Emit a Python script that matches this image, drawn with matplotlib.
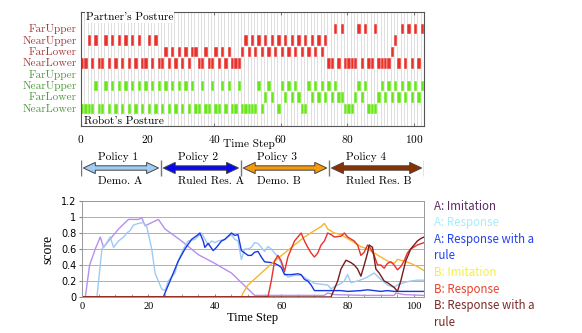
import numpy as np
import matplotlib.pyplot as plt
from matplotlib.patches import Polygon
import matplotlib.transforms as mtransforms

plt.rcParams['axes.formatter.use_mathtext'] = True

# ---- posture sequences (one entry per time step) ----
posture_rows = ['FarUpper', 'NearUpper', 'FarLower', 'NearLower']
partner_posture = (
    "NL NL NU NL NU NL NL NU NL NU NL NU NL NU NL NU NL NU NL NL NU NL NU NL "
    "NL FL NL FL NL FL NL FL NL FL FL NL NL FL NL NL FL NL FL NL FL NL NL NL FL "
    "NU FL NU FL NU FL NU FL NU FL NU FL NU FL NU FL NU FL NU FL NU FL NU FL NU "
    "NL NL FU NL FU NL NL NL NL FU NL FU NL NL FU NL NL NL NL FL NU NL FU NL FU NL FU NL FU"
).split()
robot_posture = (
    "NL NL NL NL NU NL NL NU NL NU NL NU NL NU NL NU NL NU NL NU NL NU NL NU NL "
    "NU NL NU NL NU NL NU NL NU NL NL NU NL NL NU NL NL NU NL NU NL NL NU NL NL "
    "NL NL NL NU NL FL NU FL -- NL NU FL NU FL NU FL NL NL NU FL NU FL NU FL NU "
    "FL NU FL FL NL NL NL FL NU FL NU NL NL NL FL NU FL NU FL NU FL NU FL NU FL NU FL NU"
).split()

# ---- policy phases ----
policy_bounds = [0, 24, 48, 74.5, 103]
policy_names = ['Policy 1', 'Policy 2', 'Policy 3', 'Policy 4']
policy_modes = ['Demo. A', 'Ruled Res. A', 'Demo. B', 'Ruled Res. B']
policy_colors = ['#9fcdf4', '#0808f0', '#f69a0a', '#8b3100']

# ---- scores ----
a_imit_t = [0, 1, 2.3, 4, 5.5, 6.5, 7, 9, 11, 14, 17, 18, 19, 23, 25, 30, 35, 40, 45, 50, 52, 60, 73, 74, 76, 85, 94, 94.5, 97, 103]
a_imit_v = [0, 0, 0.4, 0.6, 0.75, 0.62, 0.65, 0.75, 0.85, 0.97, 0.97, 0.99, 0.89, 0.97, 0.85, 0.7, 0.53, 0.42, 0.3, 0.1, 0.02, 0.02, 0.02, 0.05, 0.03, 0.02, 0.02, 0.05, 0.03, 0.02]

a_resp_t = [0, 4.5, 6, 7, 8.5, 9.5, 11, 12.5, 13.5, 14.5, 15.5, 17, 18.5, 19.5, 21, 22, 23, 24, 25, 26, 28, 29, 30.5, 32, 34, 36, 38, 39, 40, 41, 43, 45, 46, 47, 48, 49, 50, 51, 52, 53, 55, 56, 57, 58, 59, 60, 61, 62, 64, 66, 68, 70, 72, 74, 75, 76, 78, 79, 80, 81, 83, 85, 86, 88, 90, 92, 94, 95, 97, 99, 101, 103]
a_resp_v = [0, 0, 0.6, 0.65, 0.75, 0.62, 0.7, 0.75, 0.8, 0.83, 0.9, 0.92, 0.93, 0.88, 0.6, 0.3, 0.2, 0.1, 0.08, 0.2, 0.3, 0.45, 0.6, 0.7, 0.72, 0.8, 0.65, 0.7, 0.68, 0.7, 0.72, 0.78, 0.72, 0.7, 0.47, 0.6, 0.6, 0.62, 0.68, 0.67, 0.57, 0.63, 0.6, 0.55, 0.5, 0.42, 0.3, 0.25, 0.27, 0.27, 0.22, 0.17, 0.16, 0.15, 0.1, 0.13, 0.17, 0.2, 0.28, 0.18, 0.2, 0.23, 0.25, 0.3, 0.22, 0.15, 0.12, 0.15, 0.18, 0.2, 0.21, 0.21]

a_rule_t = [0, 24.5, 25.5, 27, 29, 31, 33, 35, 35.5, 36.5, 37, 38, 39.5, 40.5, 42, 43, 45, 46, 47, 48, 49, 50, 51, 52, 53, 54, 55, 57, 58, 59, 60, 61, 63, 65, 66, 67, 68, 69, 70, 72, 75, 78, 80, 84, 86, 88, 90, 92, 94, 103]
a_rule_v = [0, 0, 0.1, 0.25, 0.45, 0.6, 0.72, 0.78, 0.8, 0.7, 0.62, 0.67, 0.58, 0.62, 0.7, 0.72, 0.8, 0.77, 0.78, 0.58, 0.55, 0.52, 0.52, 0.56, 0.57, 0.5, 0.44, 0.43, 0.42, 0.4, 0.37, 0.28, 0.28, 0.29, 0.28, 0.22, 0.2, 0.15, 0.08, 0.08, 0.08, 0.08, 0.07, 0.08, 0.09, 0.08, 0.07, 0.08, 0.07, 0.07]

b_imit_t = [0, 48, 48.5, 50, 54, 58, 61, 64, 67, 70, 72, 73, 74, 76, 78, 80, 82, 84, 86, 88, 90, 92, 94, 95, 97, 99, 101, 103]
b_imit_v = [0, 0, 0.05, 0.15, 0.3, 0.45, 0.55, 0.65, 0.75, 0.83, 0.88, 0.92, 0.85, 0.8, 0.78, 0.73, 0.68, 0.63, 0.6, 0.55, 0.5, 0.45, 0.42, 0.47, 0.45, 0.42, 0.38, 0.33]

b_resp_t = [0, 56, 57, 58, 59, 60, 61, 62, 63, 64, 65, 66, 67, 68, 69, 70, 71, 72, 73, 74, 75, 76, 78, 79, 80, 82, 83, 84, 85, 86, 87, 88, 89, 90, 91, 92, 93, 94, 95, 96, 97, 98, 99, 101, 103]
b_resp_v = [0, 0, 0.2, 0.45, 0.52, 0.45, 0.32, 0.5, 0.6, 0.7, 0.75, 0.8, 0.7, 0.62, 0.55, 0.5, 0.55, 0.65, 0.7, 0.8, 0.78, 0.75, 0.76, 0.8, 0.75, 0.7, 0.65, 0.52, 0.56, 0.65, 0.6, 0.52, 0.4, 0.4, 0.36, 0.42, 0.44, 0.4, 0.34, 0.38, 0.45, 0.55, 0.6, 0.65, 0.68]

b_rule_t = [0, 75, 77, 78, 79.5, 81, 82, 83, 84, 85, 86, 86.5, 87.5, 88.5, 89.5, 91, 92, 94, 95, 96, 97.5, 99, 100, 101, 102, 103]
b_rule_v = [0, 0, 0.2, 0.35, 0.46, 0.43, 0.4, 0.35, 0.26, 0.4, 0.55, 0.65, 0.62, 0.35, 0.3, 0.2, 0.18, 0.12, 0.07, 0.2, 0.45, 0.6, 0.65, 0.7, 0.73, 0.75]

legend_labels = ['A: Imitation', 'A: Response', 'A: Response with a\nrule',
                 'B: Imitation', 'B: Response', 'B: Response with a\nrule']
legend_colors = ['#5c2b5e', '#a6eefc', '#2442f2', '#f4f046', '#e8432e', '#7a2b28']
line_colors = ['#b68ff0', '#9fcaf2', '#1838e6', '#f8b52c', '#e8302c', '#761c1a']

W, H = 582, 333
fig = plt.figure(figsize=(W / 100, H / 100), dpi=100)

def box(l, t, r, b):
    return [l / W, 1 - b / H, (r - l) / W, (b - t) / H]

SERIF = 'cmr10'

# ---------------- posture panel ----------------
ax = fig.add_axes(box(81, 12, 424, 126))
ax.set_xlim(0, 103)
ax.set_ylim(-0.5, 9.5)
steps = np.arange(len(partner_posture))
ax.vlines(steps, -0.5, 9.5, color='#dedede', lw=0.7, zorder=0)

partner_y = {'FarUpper': 8, 'NearUpper': 7, 'FarLower': 6, 'NearLower': 5}
robot_y = {'FarUpper': 4, 'NearUpper': 3, 'FarLower': 2, 'NearLower': 1}
code = {'FU': 'FarUpper', 'NU': 'NearUpper', 'FL': 'FarLower', 'NL': 'NearLower'}

for seq, ymap, col in [(partner_posture, partner_y, '#e8312b'), (robot_posture, robot_y, '#68e61a')]:
    xs = [t for t, s in zip(steps, seq) if s in code]
    ys = [ymap[code[s]] for s in seq if s in code]
    ax.bar(xs, 0.92, width=1, bottom=np.array(ys) - 0.46, align='edge',
           color=col, edgecolor='white', linewidth=0.3, zorder=2)

trans = mtransforms.blended_transform_factory(ax.transAxes, ax.transData)
for name in posture_rows:
    ax.text(-0.012, partner_y[name], name, transform=trans, ha='right', va='center',
            color='#a83c3c', fontsize=8.2, family=SERIF)
    ax.text(-0.012, robot_y[name], name, transform=trans, ha='right', va='center',
            color='#4e9c3c', fontsize=8.2, family=SERIF)
ax.text(1.5, 9.0, "Partner's Posture", ha='left', va='center', fontsize=8.2, family=SERIF,
        bbox=dict(fc='white', ec='none', pad=0.5), zorder=4)
ax.text(1.0, -0.05, "Robot's Posture", ha='left', va='center', fontsize=8.2, family=SERIF,
        bbox=dict(fc='white', ec='none', pad=0.5), zorder=4)

ax.set_xticks([0, 20, 40, 60, 80, 100])
ax.set_yticks([])
ax.tick_params(axis='x', top=True, direction='in', length=2, labelsize=8.2, pad=5, color='#777777')
for lab in ax.get_xticklabels():
    lab.set_family(SERIF)
ax.text(0.49, -0.155, 'Time Step', transform=ax.transAxes, ha='center', va='center',
        fontsize=8.2, family=SERIF)
for sp in ax.spines.values():
    sp.set_color('#555555')
    sp.set_linewidth(0.8)

# ---------------- policy arrows ----------------
axp = fig.add_axes(box(81, 148, 424, 188))
axp.set_xlim(0, 103)
axp.set_ylim(0, 1)
axp.axis('off')
yc, shaft, head, hl, inset = 0.5, 0.055, 0.14, 3.6, 0.7
for i in range(len(policy_names)):
    x0 = policy_bounds[i] + inset
    x1 = policy_bounds[i + 1] - inset
    pts = [(x0, yc), (x0 + hl, yc + head), (x0 + hl, yc + shaft), (x1 - hl, yc + shaft),
           (x1 - hl, yc + head), (x1, yc), (x1 - hl, yc - head), (x1 - hl, yc - shaft),
           (x0 + hl, yc - shaft), (x0 + hl, yc - head)]
    axp.add_patch(Polygon(pts, closed=True, fc=policy_colors[i], ec='#444444', lw=0.7))
    axp.text(policy_bounds[i] + 5, 0.78, policy_names[i], ha='left', va='center',
             fontsize=8.2, family=SERIF)
    axp.text(policy_bounds[i] + 5, 0.17, policy_modes[i], ha='left', va='center',
             fontsize=8.2, family=SERIF)
axp.vlines(policy_bounds, 0.3, 0.7, color='#777777', lw=1)

# ---------------- score plot ----------------
axs = fig.add_axes(box(82, 201, 424, 297))
series = [(a_imit_t, a_imit_v), (a_resp_t, a_resp_v), (a_rule_t, a_rule_v),
          (b_imit_t, b_imit_v), (b_resp_t, b_resp_v), (b_rule_t, b_rule_v)]
for (t, v), c in zip(series, line_colors):
    axs.plot(t, v, color=c, lw=1.0)
axs.set_xlim(0, 103)
axs.set_ylim(0, 1.2)
axs.set_yticks([0, 0.2, 0.4, 0.6, 0.8, 1.0, 1.2])
axs.set_yticklabels(['0', '0.2', '0.4', '0.6', '0.8', '1', '1.2'], fontsize=7)
axs.set_xticks([0, 20, 40, 60, 80, 100])
axs.set_xticks(np.arange(0, 103, 5), minor=True)
axs.set_xticklabels(['0', '20', '40', '60', '80', '100'], fontsize=7.5, family='Liberation Serif')
axs.tick_params(axis='x', which='both', direction='in', length=2, color='#888888')
axs.tick_params(axis='y', direction='out', length=2, color='#888888', pad=2)
axs.grid(axis='y', color='#b0b0b0', lw=0.7)
for sp in axs.spines.values():
    sp.set_color('#999999')
    sp.set_linewidth(0.7)
axs.set_xlabel('Time Step', fontsize=9, family='Liberation Serif', labelpad=1)
axs.set_ylabel('score', fontsize=10, family='Liberation Serif', labelpad=5)

# legend as coloured text lines to the right
line_no = 0
for lab, c in zip(legend_labels, legend_colors):
    for part in lab.split('\n'):
        fig.text(434 / W, 1 - (206 + 16.6 * line_no) / H, part, color=c, fontsize=8.3,
                 family='Noto Sans CJK JP', ha='left', va='center')
        line_no += 1

fig.savefig('out.png', dpi=100)
